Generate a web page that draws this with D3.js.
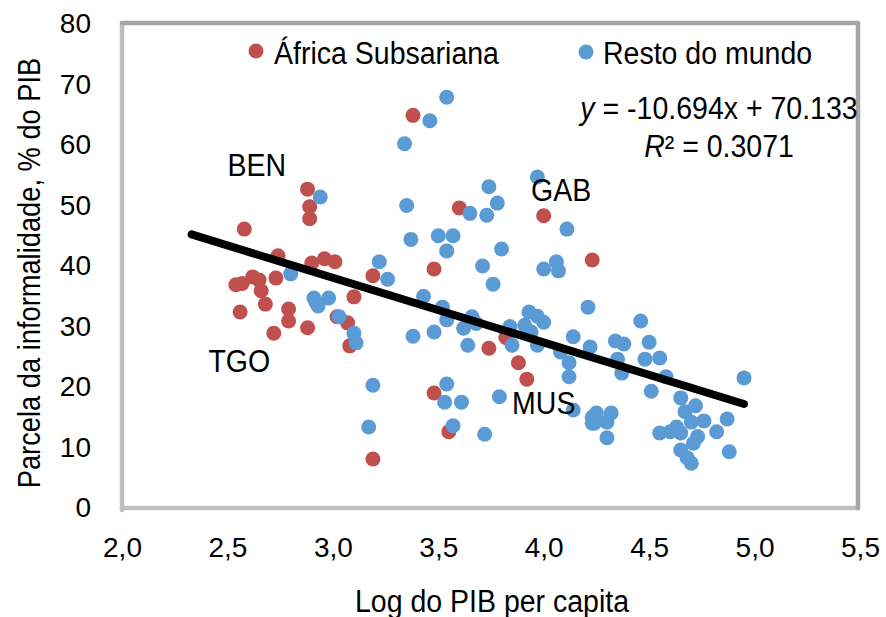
<!DOCTYPE html>
<html>
<head>
<meta charset="utf-8">
<script src="https://cdn.jsdelivr.net/npm/d3@7"></script>
<style>
  html, body { margin: 0; padding: 0; background: #fff; }
  svg { display: block; font-family: "Liberation Sans", Arial, sans-serif; }
</style>
</head>
<body>
<svg id="chart" width="886" height="617"></svg>
<script>
// ---- data ----
const africa = [
  [2.54, 36.9], [2.57, 37.1], [2.62, 38.2], [2.65, 37.7], [2.66, 35.9], [2.73, 38.0],
  [2.68, 33.7], [2.56, 32.4], [2.79, 32.9], [2.79, 30.9], [2.72, 28.9], [2.88, 29.8],
  [3.10, 34.9], [3.02, 31.6], [3.07, 30.6], [3.08, 26.8], [3.19, 8.1], [3.19, 38.4],
  [2.58, 46.1], [2.88, 52.7], [2.89, 49.8], [2.89, 47.8], [2.74, 41.7], [2.90, 40.5],
  [2.96, 41.2], [3.01, 40.7], [3.38, 64.9], [3.60, 49.6], [4.00, 48.3], [4.23, 41.0],
  [3.48, 39.5], [3.74, 26.4], [3.88, 24.0], [3.92, 21.3], [3.48, 19.0], [3.55, 12.6],
  [3.82, 28.2]
];
const resto = [
  [3.54, 67.9], [3.46, 64.0], [3.34, 60.2], [2.94, 51.4], [3.35, 50.0], [3.97, 54.7],
  [3.74, 53.1], [3.78, 50.4], [3.65, 48.7], [3.73, 48.4], [4.11, 46.1], [3.37, 44.4],
  [3.50, 45.0], [3.57, 45.0], [3.54, 42.5], [3.80, 42.8], [3.22, 40.7], [3.26, 37.8],
  [3.71, 40.0], [3.76, 37.0], [4.00, 39.5], [4.06, 40.7], [4.07, 39.2], [3.43, 35.0],
  [2.91, 34.7], [2.98, 34.7], [2.80, 38.7], [2.92, 34.0], [2.93, 33.4], [3.03, 31.6],
  [3.10, 28.9], [3.11, 27.3], [3.19, 20.3], [3.17, 13.4], [3.38, 28.4], [3.48, 29.1],
  [3.52, 33.2], [3.54, 31.1], [3.62, 29.7], [3.64, 26.9], [3.66, 31.6], [3.68, 30.5],
  [3.54, 20.5], [3.53, 17.5], [3.61, 17.5], [3.57, 13.6], [3.72, 12.2], [3.79, 18.4],
  [3.84, 30.0], [3.85, 26.9], [3.93, 32.4], [3.97, 31.7], [3.91, 30.2], [3.94, 29.1],
  [4.00, 30.7], [3.97, 26.9], [4.14, 28.3], [4.22, 26.6], [4.21, 33.2], [4.08, 25.8],
  [4.12, 24.0], [4.12, 21.7], [4.14, 16.2], [4.23, 15.0], [4.23, 14.0], [4.46, 30.9],
  [4.34, 27.6], [4.38, 27.1], [4.50, 27.4], [4.35, 24.6], [4.37, 22.3], [4.48, 24.6],
  [4.55, 24.8], [4.58, 21.7], [4.51, 19.3], [4.25, 15.7], [4.24, 14.0], [4.32, 15.7],
  [4.30, 14.2], [4.30, 11.6], [4.65, 18.2], [4.67, 15.9], [4.72, 16.9], [4.70, 14.2],
  [4.76, 14.4], [4.55, 12.4], [4.60, 12.6], [4.63, 13.4], [4.65, 12.4], [4.73, 11.8],
  [4.71, 10.7], [4.65, 9.6], [4.68, 8.3], [4.70, 7.4], [4.82, 12.6], [4.87, 14.7],
  [4.88, 9.3], [4.95, 21.5]
];
const trendSlope = -10.694;
const trendIntercept = 70.133;
const trendRange = [2.33, 4.95];
const xTicks = [2.0, 2.5, 3.0, 3.5, 4.0, 4.5, 5.0, 5.5];
const yTicks = [0, 10, 20, 30, 40, 50, 60, 70, 80];
const seriesNames = ["África Subsariana", "Resto do mundo"];
const countryLabels = [
  { text: "BEN", x: 2.50, y: 54.8 },
  { text: "TGO", x: 2.41, y: 22.5 },
  { text: "GAB", x: 3.94, y: 50.8 },
  { text: "MUS", x: 3.85, y: 15.5 }
];
const eqText = "y = -10.694x + 70.133";
const r2Text = "0.3071";

// ---- layout ----
const svg = d3.select("#chart");
const pLeft = 122, pRight = 860, pTop = 24, pBottom = 508;
const RED = "#C0504D", BLUE = "#5B9BD5";
const x = d3.scaleLinear().domain([2, 5.5]).range([pLeft, pRight]);
const y = d3.scaleLinear().domain([0, 80]).range([pBottom, pTop]);

const ptLocale = d3.formatLocale({ decimal: ",", thousands: ".", grouping: [3], currency: ["", ""] });
const fmt1 = ptLocale.format(".1f");

svg.append("rect").attr("width", 886).attr("height", 617).attr("fill", "#fff");

// frame
const frame = svg.append("g");
frame.append("line").attr("x1", pLeft).attr("x2", pLeft).attr("y1", pTop - 1).attr("y2", pBottom + 2)
  .attr("stroke", "#bfbfbf").attr("stroke-width", 4.5).attr("stroke-linecap", "round");
frame.append("line").attr("x1", pLeft).attr("x2", pRight - 2).attr("y1", pBottom).attr("y2", pBottom)
  .attr("stroke", "#bfbfbf").attr("stroke-width", 4.5).attr("stroke-linecap", "round");
frame.append("line").attr("x1", pLeft).attr("x2", pRight - 2).attr("y1", pTop - 1).attr("y2", pTop - 1)
  .attr("stroke", "#a6a6a6").attr("stroke-width", 4.5).attr("stroke-linecap", "round");
frame.append("line").attr("x1", pRight - 2).attr("x2", pRight - 2).attr("y1", pTop - 1).attr("y2", pBottom)
  .attr("stroke", "#a6a6a6").attr("stroke-width", 4.5).attr("stroke-linecap", "round");

// axes
const yAxis = svg.append("g").attr("transform", `translate(${pLeft},0)`)
  .call(d3.axisLeft(y).tickValues(yTicks).tickSize(0).tickPadding(31).tickFormat(d3.format("d")));
const xAxis = svg.append("g").attr("transform", `translate(0,${pBottom})`)
  .call(d3.axisBottom(x).tickValues(xTicks).tickSize(0).tickPadding(29).tickFormat(fmt1));
[yAxis, xAxis].forEach(a => {
  a.select(".domain").remove();
  a.selectAll("text").attr("font-size", 28).attr("fill", "#000")
    .attr("font-family", "'Liberation Sans', Arial, sans-serif");
});

// helper for slightly condensed text
function label(xp, yp, str, anchor, size, sx, rot) {
  const g = svg.append("g").attr("transform", `translate(${xp},${yp})` + (rot ? ` rotate(${rot})` : ""));
  return g.append("text").attr("transform", `scale(${sx},1)`)
    .attr("text-anchor", anchor).attr("font-size", size).attr("fill", "#000").text(str);
}

// points
svg.append("g").selectAll("circle").data(africa).join("circle")
  .attr("cx", d => x(d[0])).attr("cy", d => y(d[1])).attr("r", 7.5).attr("fill", RED);
svg.append("g").selectAll("circle").data(resto).join("circle")
  .attr("cx", d => x(d[0])).attr("cy", d => y(d[1])).attr("r", 7.5).attr("fill", BLUE);

// trend line
const trendPts = trendRange.map(v => [v, trendSlope * v + trendIntercept]);
svg.append("path").datum(trendPts)
  .attr("d", d3.line().x(d => x(d[0])).y(d => y(d[1])))
  .attr("stroke", "#000").attr("stroke-width", 8).attr("stroke-linecap", "round").attr("fill", "none");

// legend
svg.append("circle").attr("cx", 256).attr("cy", 51).attr("r", 7.5).attr("fill", RED);
label(274, 64, seriesNames[0], "start", 31, 0.92);
svg.append("circle").attr("cx", 586).attr("cy", 52).attr("r", 7.5).attr("fill", BLUE);
label(603, 64, seriesNames[1], "start", 31, 0.92);

// equation
const eq = label(719, 119, "", "middle", 31, 0.92);
eq.append("tspan").attr("font-style", "italic").text("y");
eq.append("tspan").text(eqText.slice(1));
const r2 = label(719, 157, "", "middle", 31, 0.92);
r2.append("tspan").attr("font-style", "italic").text("R");
r2.append("tspan").text("² = " + r2Text);

// country labels
countryLabels.forEach(c => label(x(c.x), y(c.y), c.text, "start", 31, 0.92));

// axis titles
label(492, 612, "Log do PIB per capita", "middle", 31, 0.92);
label(40, 273, "Parcela da informalidade, % do PIB", "middle", 31, 0.88, -90);
</script>
</body>
</html>
